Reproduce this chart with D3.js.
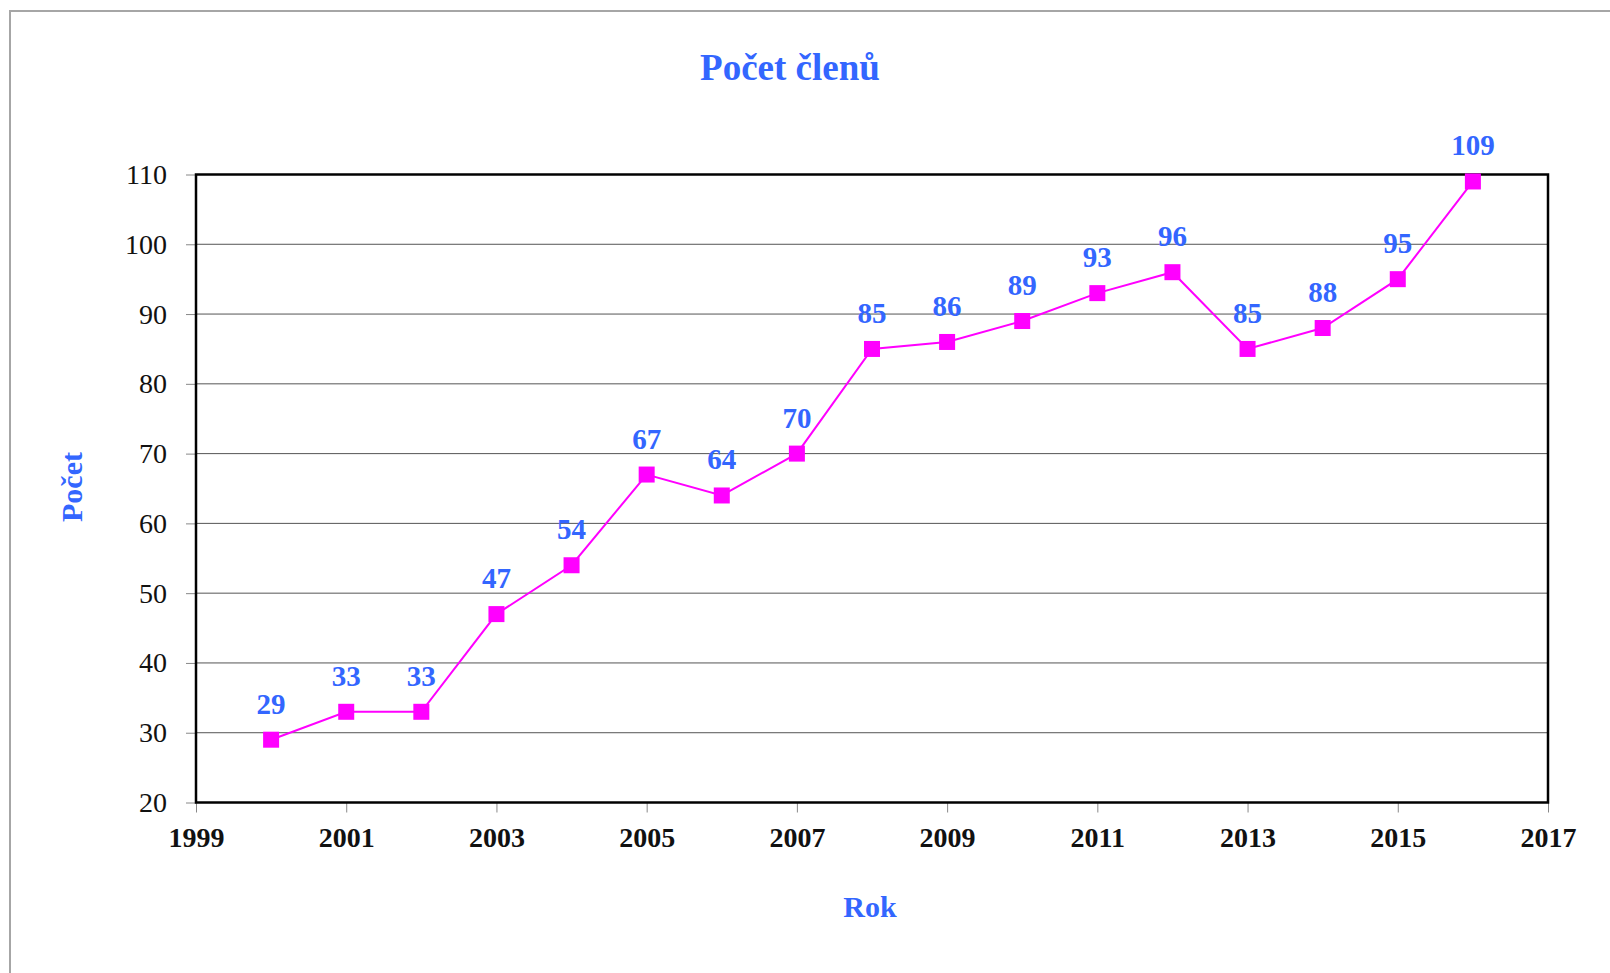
<!DOCTYPE html>
<html>
<head>
<meta charset="utf-8">
<script src="https://cdn.jsdelivr.net/npm/d3@7"></script>
<style>
  html, body { margin: 0; padding: 0; background: #fff; }
  svg { display: block; }
</style>
</head>
<body>
<svg id="chart" width="1610" height="973"></svg>
<script>
const years = [2000, 2001, 2002, 2003, 2004, 2005, 2006, 2007, 2008, 2009, 2010, 2011, 2012, 2013, 2014, 2015, 2016];
const members = [29, 33, 33, 47, 54, 67, 64, 70, 85, 86, 89, 93, 96, 85, 88, 95, 109];
const xTicks = [1999, 2001, 2003, 2005, 2007, 2009, 2011, 2013, 2015, 2017];
const yTicks = [20, 30, 40, 50, 60, 70, 80, 90, 100, 110];
const title = "Počet členů";
const xTitle = "Rok";
const yTitle = "Počet";

const blue = "#3366FF";
const magenta = "#FF00FF";
const serif = "'Liberation Serif', 'Times New Roman', serif";

const svg = d3.select("#chart");
const plot = { left: 196, top: 174.5, right: 1548, bottom: 802.5 };

// outer frame
svg.append("rect")
  .attr("x", 10).attr("y", 11)
  .attr("width", 1700).attr("height", 1100)
  .attr("fill", "none").attr("stroke", "#a6a6a6").attr("stroke-width", 2);

const x = d3.scaleLinear().domain([1999, 2017]).range([plot.left, plot.right]);
const y = d3.scaleLinear().domain([20, 110]).range([plot.bottom, plot.top]);

// gridlines
svg.append("g").selectAll("line")
  .data(yTicks.filter(t => t > 20 && t < 110))
  .join("line")
  .attr("x1", plot.left).attr("x2", plot.right)
  .attr("y1", d => y(d)).attr("y2", d => y(d))
  .attr("stroke", "#555").attr("stroke-width", 1);

// y axis
const yAxis = svg.append("g")
  .attr("transform", `translate(${plot.left},0)`)
  .call(d3.axisLeft(y).tickValues(yTicks).tickSize(10).tickPadding(19).tickFormat(d3.format("d")));
yAxis.select(".domain").remove();
yAxis.selectAll(".tick line").attr("stroke", "#888");
yAxis.selectAll(".tick text")
  .attr("font-family", serif).attr("font-size", 28).attr("fill", "#111")
  .attr("dy", "0.32em");

// x axis
const xAxis = svg.append("g")
  .attr("transform", `translate(0,${plot.bottom})`)
  .call(d3.axisBottom(x).tickValues(xTicks).tickSize(10).tickPadding(0).tickFormat(d3.format("d")));
xAxis.select(".domain").remove();
xAxis.selectAll(".tick line").attr("stroke", "#888");
xAxis.selectAll(".tick text")
  .attr("font-family", serif).attr("font-size", 28).attr("font-weight", "bold").attr("fill", "#111")
  .attr("y", 44).attr("dy", 0);

// plot border
svg.append("rect")
  .attr("x", plot.left).attr("y", plot.top)
  .attr("width", plot.right - plot.left).attr("height", plot.bottom - plot.top)
  .attr("fill", "none").attr("stroke", "#000").attr("stroke-width", 2.5);

const data = years.map((yr, i) => ({ yr, v: members[i] }));

// line
svg.append("path")
  .datum(data)
  .attr("fill", "none").attr("stroke", magenta).attr("stroke-width", 2)
  .attr("d", d3.line().x(d => x(d.yr)).y(d => y(d.v)));

// markers
const ms = 16;
svg.append("g").selectAll("rect")
  .data(data).join("rect")
  .attr("x", d => x(d.yr) - ms / 2).attr("y", d => y(d.v) - ms / 2)
  .attr("width", ms).attr("height", ms)
  .attr("fill", magenta);

// data labels
svg.append("g").selectAll("text")
  .data(data).join("text")
  .attr("x", d => x(d.yr)).attr("y", d => y(d.v) - 26)
  .attr("text-anchor", "middle")
  .attr("font-family", serif).attr("font-size", 29).attr("font-weight", "bold")
  .attr("fill", blue)
  .text(d => d.v);

// title
svg.append("text")
  .attr("x", 790).attr("y", 80)
  .attr("text-anchor", "middle")
  .attr("font-family", serif).attr("font-size", 37).attr("font-weight", "bold")
  .attr("fill", blue)
  .text(title);

// x title
svg.append("text")
  .attr("x", 870).attr("y", 917)
  .attr("text-anchor", "middle")
  .attr("font-family", serif).attr("font-size", 30).attr("font-weight", "bold")
  .attr("fill", blue)
  .text(xTitle);

// y title
svg.append("text")
  .attr("transform", "translate(82,487) rotate(-90)")
  .attr("text-anchor", "middle")
  .attr("font-family", serif).attr("font-size", 30).attr("font-weight", "bold")
  .attr("fill", blue)
  .text(yTitle);
</script>
</body>
</html>
